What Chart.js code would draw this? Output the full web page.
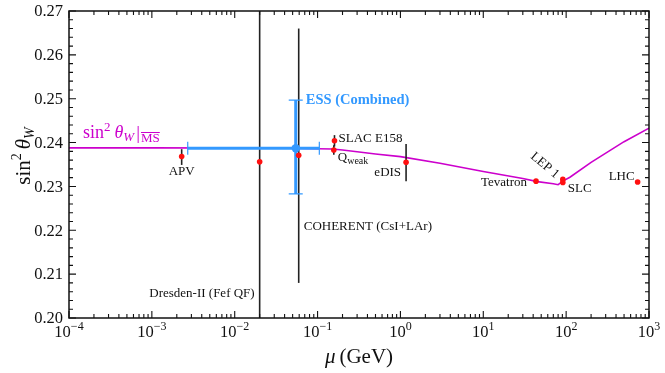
<!DOCTYPE html>
<html>
<head>
<meta charset="utf-8">
<script src="https://cdn.jsdelivr.net/npm/chart.js@4.4.0/dist/chart.umd.min.js"></script>
<style>
  body { margin: 0; background: #fff; }
  #wrap { width: 665px; height: 373px; }
</style>
</head>
<body>
<div id="wrap"><canvas id="myChart" width="665" height="373"></canvas></div>
<script>
// running of the weak mixing angle (MS-bar)
var runMu = [1e-4, 1e-3, 1e-2, 0.05, 0.1, 0.15, 0.2, 0.3, 0.5, 1, 3, 10, 30, 45, 70, 80, 91.2, 111, 200, 500, 1000];
var runS2w = [0.2388, 0.2388, 0.23875, 0.2387, 0.2386, 0.23853, 0.2383, 0.2379, 0.2374, 0.2368, 0.2353, 0.2334, 0.2318, 0.2311, 0.2306, 0.2304, 0.2312, 0.2321, 0.2355, 0.2402, 0.2433];

// measurements
var expNames = ["APV", "Dresden-II (Fef QF)", "COHERENT (CsI+LAr)", "SLAC E158", "Qweak", "eDIS", "Tevatron", "LEP 1", "SLC", "LHC"];
var expMu = [0.00229, 0.02, 0.0592, 0.160, 0.157, 1.17, 43.3, 91.19, 91.19, 729];
var expVal = [0.2368, 0.2356, 0.2371, 0.2404, 0.2383, 0.2355, 0.2312, 0.2316, 0.2309, 0.2310];
var expHi = [0.2385, 0.29, 0.2660, 0.2417, 0.2394, 0.2397, 0.2314, 0.2318, 0.2312, 0.2312];
var expLo = [0.2349, 0.18, 0.2080, 0.2391, 0.2372, 0.2312, 0.2310, 0.2314, 0.2306, 0.2308];

// ESS (combined) projection
var essMu = [0.0545];
var essVal = [0.2387];
var essMuLo = [0.00271];
var essMuHi = [0.105];
var essLo = [0.2283];
var essHi = [0.2497];

// axis ticks
var xTickExps = [-4, -3, -2, -1, 0, 1, 2, 3];
var yTickLabels = ["0.20", "0.21", "0.22", "0.23", "0.24", "0.25", "0.26", "0.27"];

var SERIF = '"Liberation Serif", "DejaVu Serif", serif';
var MAGENTA = "#cc00cc";
var BLUE = "#3399ff";

function f(size, style) {
  return (style ? style + " " : "") + size + "px " + SERIF;
}

// draw text made of pieces (for super/subscripts)
function rich(ctx, parts, x, y, align) {
  var w = 0;
  parts.forEach(function (p) {
    ctx.font = p.font;
    p.w = ctx.measureText(p.t).width;
    w += p.w + (p.gap || 0);
  });
  var cx = x;
  if (align === "center") cx = x - w / 2;
  if (align === "right") cx = x - w;
  ctx.textAlign = "left";
  ctx.textBaseline = "alphabetic";
  parts.forEach(function (p) {
    ctx.font = p.font;
    ctx.fillText(p.t, cx, y + (p.dy || 0));
    if (p.over) {
      ctx.fillRect(cx, y + (p.dy || 0) - p.over, p.w, 1);
    }
    cx += p.w + (p.gap || 0);
  });
  return w;
}

var points = expMu.map(function (m, i) { return { x: m, y: expVal[i] }; });
var runData = runMu.map(function (m, i) { return { x: m, y: runS2w[i] }; });
var essData = essMu.map(function (m, i) { return { x: m, y: essVal[i] }; });

// error bars drawn right after the curve, under the dots
const errorBars = {
  id: "errorBars",
  afterDatasetDraw(chart, args) {
    if (args.index !== 0) return;
    const { ctx, chartArea, scales: { x, y } } = chart;
    ctx.save();
    ctx.beginPath();
    ctx.rect(chartArea.left, chartArea.top, chartArea.right - chartArea.left, chartArea.bottom - chartArea.top);
    ctx.clip();
    ctx.strokeStyle = "#222";
    ctx.lineWidth = 1.6;
    expMu.forEach(function (m, i) {
      var px = x.getPixelForValue(m);
      ctx.beginPath();
      ctx.moveTo(px, y.getPixelForValue(expLo[i]));
      ctx.lineTo(px, y.getPixelForValue(expHi[i]));
      ctx.stroke();
    });
    // ESS
    ctx.strokeStyle = BLUE;
    essMu.forEach(function (m, i) {
      var px = x.getPixelForValue(m);
      var py = y.getPixelForValue(essVal[i]);
      var x0 = x.getPixelForValue(essMuLo[i]);
      var x1 = x.getPixelForValue(essMuHi[i]);
      var y0 = y.getPixelForValue(essLo[i]);
      var y1 = y.getPixelForValue(essHi[i]);
      ctx.lineWidth = 3;
      ctx.beginPath();
      ctx.moveTo(x0, py); ctx.lineTo(x1, py);
      ctx.moveTo(px, y0); ctx.lineTo(px, y1);
      ctx.stroke();
      ctx.lineWidth = 1.2;
      ctx.beginPath();
      ctx.moveTo(x0, py - 6.5); ctx.lineTo(x0, py + 6.5);
      ctx.moveTo(x1, py - 6.5); ctx.lineTo(x1, py + 6.5);
      ctx.moveTo(px - 7, y0); ctx.lineTo(px + 7, y0);
      ctx.moveTo(px - 7, y1); ctx.lineTo(px + 7, y1);
      ctx.stroke();
    });
    ctx.restore();
  },
};

// frame, inward ticks, tick labels, titles and annotations
const frame = {
  id: "frame",
  afterDraw(chart) {
    const { ctx, chartArea: a, scales: { x, y } } = chart;
    ctx.save();
    ctx.strokeStyle = "#111";
    ctx.fillStyle = "#111";
    ctx.lineWidth = 1.5;
    ctx.strokeRect(a.left, a.top, a.right - a.left, a.bottom - a.top);
    ctx.lineWidth = 1.1;
    ctx.beginPath();
    // x ticks
    xTickExps.forEach(function (e) {
      for (var k = 1; k <= 9; k++) {
        var v = k * Math.pow(10, e);
        if (v > 1000.0001) break;
        var px = x.getPixelForValue(v);
        var len = k === 1 ? 7 : 4;
        ctx.moveTo(px, a.bottom); ctx.lineTo(px, a.bottom - len);
        ctx.moveTo(px, a.top); ctx.lineTo(px, a.top + len);
      }
    });
    // y ticks
    for (var j = 0; j <= 35; j++) {
      var v = 0.2 + j * 0.002;
      var py = y.getPixelForValue(v);
      var len = j % 5 === 0 ? 7 : 4;
      ctx.moveTo(a.left, py); ctx.lineTo(a.left + len, py);
      ctx.moveTo(a.right, py); ctx.lineTo(a.right - len, py);
    }
    ctx.stroke();

    // tick labels
    xTickExps.forEach(function (e) {
      var px = x.getPixelForValue(Math.pow(10, e));
      var parts = [{ t: "10", font: f(16.5) }];
      parts.push({ t: e < 0 ? "\u2212" + (-e) : String(e), font: f(12), dy: -7 });
      rich(ctx, parts, px, 337, "center");
    });
    ctx.font = f(16.5);
    ctx.textAlign = "right";
    ctx.textBaseline = "middle";
    yTickLabels.forEach(function (t) {
      ctx.fillText(t, a.left - 6, y.getPixelForValue(parseFloat(t)) + 1);
    });

    // axis titles
    rich(ctx, [
      { t: "\u03bc", font: f(21, "italic"), gap: 4 },
      { t: "(GeV)", font: f(21) },
    ], (a.left + a.right) / 2, 363, "center");
    ctx.save();
    ctx.translate(30, 156);
    ctx.rotate(-Math.PI / 2);
    rich(ctx, [
      { t: "sin", font: f(21) },
      { t: "2", font: f(14), dy: -9, gap: 4 },
      { t: "\u03b8", font: f(21, "italic") },
      { t: "W", font: f(14, "italic"), dy: 4 },
    ], 0, 0, "center");
    ctx.restore();

    // running label
    ctx.fillStyle = MAGENTA;
    rich(ctx, [
      { t: "sin", font: f(18) },
      { t: "2", font: f(13), dy: -7, gap: 4 },
      { t: "\u03b8", font: f(18, "italic") },
      { t: "W", font: f(13, "italic"), dy: 3, gap: 2 },
      { t: "|", font: f(19), dy: 1, gap: 1 },
      { t: "MS", font: f(13), dy: 4, over: 10 },
    ], 83, 138, "left");

    // ESS label
    ctx.fillStyle = BLUE;
    ctx.font = f(14.5, "bold");
    ctx.textAlign = "left";
    ctx.textBaseline = "alphabetic";
    ctx.fillText("ESS (Combined)", x.getPixelForValue(essMu[0]) + 10, y.getPixelForValue(essHi[0]) + 4);

    // experiment labels
    ctx.fillStyle = "#111";
    var fs = 13;
    function P(i) { return { x: x.getPixelForValue(expMu[i]), y: y.getPixelForValue(expVal[i]) }; }
    var p;
    ctx.font = f(fs);
    p = P(0); ctx.textAlign = "center"; ctx.fillText(expNames[0], p.x, p.y + 18);
    p = P(1); ctx.textAlign = "right"; ctx.fillText(expNames[1], p.x - 5, 297);
    p = P(2); ctx.textAlign = "left"; ctx.fillText(expNames[2], p.x + 5, 230);
    p = P(3); ctx.fillText(expNames[3], p.x + 4, p.y + 1);
    p = P(4); rich(ctx, [{ t: "Q", font: f(fs) }, { t: "weak", font: f(10), dy: 3 }], p.x + 4, p.y + 11, "left");
    p = P(5); ctx.font = f(fs); ctx.textAlign = "right"; ctx.fillText(expNames[5], p.x - 5, p.y + 14);
    p = P(6); ctx.fillText(expNames[6], p.x - 9, p.y + 5);
    p = P(8); ctx.textAlign = "left"; ctx.fillText(expNames[8], p.x + 5, p.y + 10);
    p = P(9); ctx.textAlign = "right"; ctx.fillText(expNames[9], p.x - 3, p.y - 2);
    p = P(7);
    ctx.save();
    ctx.translate(p.x - 18, p.y - 14);
    ctx.rotate(40 * Math.PI / 180);
    ctx.textAlign = "center";
    ctx.textBaseline = "middle";
    ctx.fillText(expNames[7], 0, 0);
    ctx.restore();
    ctx.restore();
  },
};

const ctx = document.getElementById("myChart");

const config = {
  type: "scatter",
  data: {
    datasets: [
      {
        label: "running",
        data: runData,
        showLine: true,
        borderColor: MAGENTA,
        borderWidth: 1.6,
        pointRadius: 0,
        tension: 0,
        order: 3,
      },
      {
        label: "measurements",
        data: points,
        pointRadius: 2.8,
        pointBackgroundColor: "#ff1010",
        pointBorderWidth: 0,
        order: 1,
      },
      {
        label: "ESS",
        data: essData,
        pointRadius: 4.2,
        pointBackgroundColor: BLUE,
        pointBorderWidth: 0,
        order: 0,
      },
    ],
  },
  options: {
    responsive: false,
    animation: false,
    devicePixelRatio: 1,
    layout: { padding: { left: 69, right: 16, top: 11, bottom: 55 } },
    plugins: { legend: { display: false }, tooltip: { enabled: false } },
    scales: {
      x: { type: "logarithmic", min: 1e-4, max: 1e3, display: false },
      y: { type: "linear", min: 0.2, max: 0.27, display: false },
    },
  },
  plugins: [errorBars, frame],
};

var chart = new Chart(ctx, config);
</script>
</body>
</html>
